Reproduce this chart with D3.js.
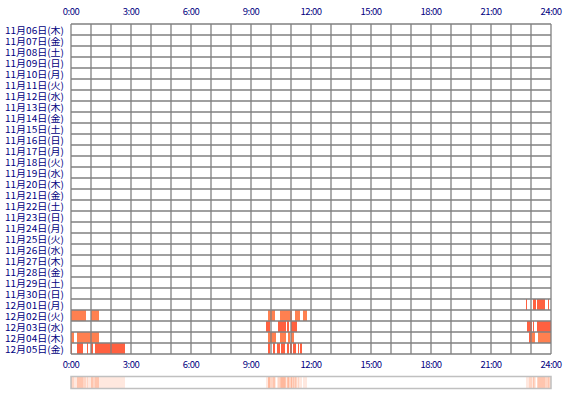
<!DOCTYPE html><html><head><meta charset="utf-8"><script src="https://cdn.jsdelivr.net/npm/d3@7"></script>
<style>body{margin:0;background:#fff}</style></head><body><svg id="c" width="570" height="400"></svg><script>
const days=["11月06日(木)","11月07日(金)","11月08日(土)","11月09日(日)","11月10日(月)","11月11日(火)","11月12日(水)","11月13日(木)","11月14日(金)","11月15日(土)","11月16日(日)","11月17日(月)","11月18日(火)","11月19日(水)","11月20日(木)","11月21日(金)","11月22日(土)","11月23日(日)","11月24日(月)","11月25日(火)","11月26日(水)","11月27日(木)","11月28日(金)","11月29日(土)","11月30日(日)","12月01日(月)","12月02日(火)","12月03日(水)","12月04日(木)","12月05日(金)"];
const tickLabels=["0:00","3:00","6:00","9:00","12:00","15:00","18:00","21:00","24:00"];
// [day, startHour, endHour, level(1=dark,2=light)]
const segments=[
["12月01日(月)",22.75,22.8,1],["12月01日(月)",23.1,23.25,1],["12月01日(月)",23.3,23.7,1],["12月01日(月)",23.85,23.9,1],
["12月02日(火)",0,0.75,2],["12月02日(火)",1.0,1.4,2],["12月02日(火)",9.85,10.2,2],["12月02日(火)",10.45,11.05,2],["12月02日(火)",11.2,11.45,2],["12月02日(火)",11.6,11.8,2],
["12月03日(水)",9.75,9.95,1],["12月03日(水)",10.35,10.75,1],["12月03日(水)",10.8,10.9,1],["12月03日(水)",11.0,11.3,1],["12月03日(水)",22.8,23.05,1],["12月03日(水)",23.1,23.15,1],["12月03日(水)",23.3,24,1],
["12月04日(木)",0,0.15,2],["12月04日(木)",0.3,1.4,2],["12月04日(木)",9.85,10.25,2],["12月04日(木)",10.45,10.75,2],["12月04日(木)",10.85,10.95,2],["12月04日(木)",11.0,11.15,2],["12月04日(木)",22.9,23.0,1],["12月04日(木)",23.0,23.2,2],["12月04日(木)",23.35,24,2],
["12月05日(金)",0,0.05,1],["12月05日(金)",0.3,0.6,1],["12月05日(金)",0.8,0.85,1],["12月05日(金)",1.0,1.1,1],["12月05日(金)",1.2,2.7,1],["12月05日(金)",9.85,9.95,1],["12月05日(金)",10.1,10.2,1],["12月05日(金)",10.3,10.45,1],["12月05日(金)",10.5,10.7,1],["12月05日(金)",10.8,10.9,1],["12月05日(金)",10.95,11.05,1],["12月05日(金)",11.1,11.25,1],["12月05日(金)",11.35,11.4,1],["12月05日(金)",11.45,11.55,1]
];
const svg=d3.select("#c");
const x=d3.scaleLinear().domain([0,24]).range([71,551]);
const y=d3.scaleBand().domain(days).range([24,354]);
const font="'Noto Sans CJK JP',sans-serif";
svg.append("g").selectAll("rect").data(segments).join("rect")
 .attr("x",d=>x(d[1])).attr("width",d=>x(d[2])-x(d[1])).attr("y",d=>y(d[0])).attr("height",y.bandwidth())
 .attr("fill",d=>d[3]==1?"#ff6040":"#ff8050");
const g=svg.append("g").attr("stroke","#808080").attr("stroke-width",1.3).attr("fill","none");
g.selectAll("line.v").data(d3.range(25)).join("line").attr("x1",d=>x(d)).attr("x2",d=>x(d)).attr("y1",24).attr("y2",354);
g.selectAll("line.h").data(d3.range(31)).join("line").attr("y1",(d,i)=>24+i*y.step()).attr("y2",(d,i)=>24+i*y.step()).attr("x1",71).attr("x2",551);
svg.append("g").selectAll("text").data(days).join("text").attr("x",64).attr("y",d=>y(d)+y.bandwidth()/2+3.5)
 .attr("text-anchor","end").attr("font-family",font).attr("font-size",7.6).attr("fill","#000080")
 .attr("textLength",59).attr("lengthAdjust","spacingAndGlyphs")
 .attr("transform",d=>`translate(0,${y(d)+y.bandwidth()/2}) scale(1,1.25) translate(0,${-(y(d)+y.bandwidth()/2)})`).text(d=>d);
[15,368].forEach(yy=>svg.append("g").selectAll("text").data(tickLabels).join("text").attr("x",(d,i)=>x(i*3)).attr("y",yy)
 .attr("text-anchor","middle").attr("font-family",font).attr("font-size",9.5).attr("fill","#000080").attr("letter-spacing",-0.5).text(d=>d));
svg.append("g").selectAll("rect").data(segments).join("rect")
 .attr("x",d=>x(d[1])).attr("width",d=>x(d[2])-x(d[1])).attr("y",377).attr("height",11)
 .attr("fill","#ff8050").attr("fill-opacity",0.18);
svg.append("rect").attr("x",71).attr("y",376.5).attr("width",480).attr("height",12).attr("fill","none").attr("stroke","#c0c0c0").attr("stroke-width",1.5);
</script></body></html>
